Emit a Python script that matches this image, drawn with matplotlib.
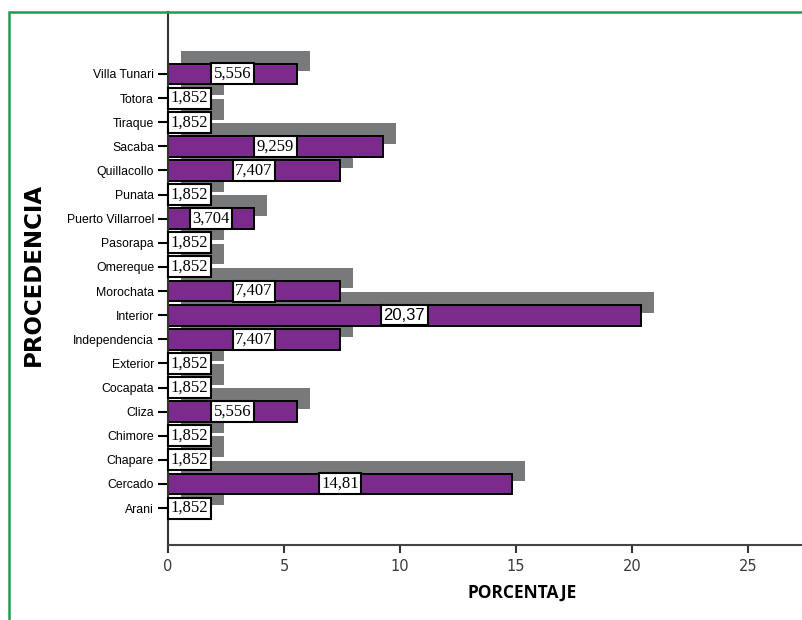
import matplotlib
matplotlib.use("Agg")
import matplotlib.pyplot as plt
from matplotlib.patches import Rectangle

# Procedencia de los casos (porcentaje)
categorias = ["Arani", "Cercado", "Chapare", "Chimore", "Cliza", "Cocapata",
              "Exterior", "Independencia", "Interior", "Morochata", "Omereque",
              "Pasorapa", "Puerto Villarroel", "Punata", "Quillacollo", "Sacaba",
              "Tiraque", "Totora", "Villa Tunari"]
porcentajes = [1.852, 14.81, 1.852, 1.852, 5.556, 1.852,
               1.852, 7.407, 20.37, 7.407, 1.852,
               1.852, 3.704, 1.852, 7.407, 9.259,
               1.852, 1.852, 5.556]
etiquetas = ["1,852", "14,81", "1,852", "1,852", "5,556", "1,852",
             "1,852", "7,407", "20,37", "7,407", "1,852",
             "1,852", "3,704", "1,852", "7,407", "9,259",
             "1,852", "1,852", "5,556"]
xticks = [0, 5, 10, 15, 20, 25]

PURPLE = "#7a2b8b"
SHADOW = "#77797b"
GREEN = "#18a050"

fig = plt.figure(figsize=(8.03, 6.2), dpi=100)
ax = fig.add_axes([168 / 803, 1 - 545 / 620, 1 - 168 / 803 + 0.001, (545 - 12) / 620])

ypos = list(range(len(categorias)))
h = 0.86
dx, dy = 0.58, 0.54

# drop shadow behind every bar
ax.barh([y + dy for y in ypos], porcentajes, left=dx, height=h,
        color=SHADOW, edgecolor="none", zorder=1)
ax.barh(ypos, porcentajes, height=h, color=PURPLE, edgecolor="black",
        linewidth=1.4, zorder=2)

for y, v, lab in zip(ypos, porcentajes, etiquetas):
    fam = ["Liberation Sans"] if lab == "20,37" else ["Liberation Serif"]
    ax.text(v / 2, y, lab, ha="center", va="center", fontsize=12,
            family=fam, color="black", zorder=4,
            bbox=dict(boxstyle="square,pad=0.15", facecolor="white",
                      edgecolor="black", linewidth=1.5))

ax.set_xlim(0, 27.4)
ax.set_ylim(-1.53, 20.57)
ax.set_yticks(ypos)
ax.set_yticklabels(categorias, family=["Liberation Sans"], fontsize=8.8)
ax.set_xticks(xticks)
ax.set_xticklabels([str(t) for t in xticks], color="#3a3a3a", fontsize=10.5,
                   family=["DejaVu Sans"])
ax.tick_params(axis="y", length=7, width=1.5, color="black", pad=3)
ax.tick_params(axis="x", length=6, width=1.5, color="#333333", pad=4)

for s in ["top", "right"]:
    ax.spines[s].set_visible(False)
ax.spines["left"].set_linewidth(1.5)
ax.spines["left"].set_color("#333333")
ax.spines["bottom"].set_linewidth(1.5)
ax.spines["bottom"].set_color("#444444")

fig.text(33 / 803, 1 - 274 / 620, "PROCEDENCIA", rotation=90, ha="center",
         va="center", fontsize=16.5, fontweight="bold", family=["DejaVu Sans"])
fig.text(522 / 803, 1 - 593 / 620, "PORCENTAJE", ha="center", va="center",
         fontsize=12.5, fontweight="bold", family=["Open Sans"])

# green frame, open to the right and bottom edges
frame = Rectangle((9 / 803, -0.05), 1.2, 1 - 12 / 620 + 0.05,
                  transform=fig.transFigure, fill=False, edgecolor=GREEN,
                  linewidth=1.8, clip_on=False)
fig.patches.append(frame)

fig.savefig("out.png", dpi=100)
